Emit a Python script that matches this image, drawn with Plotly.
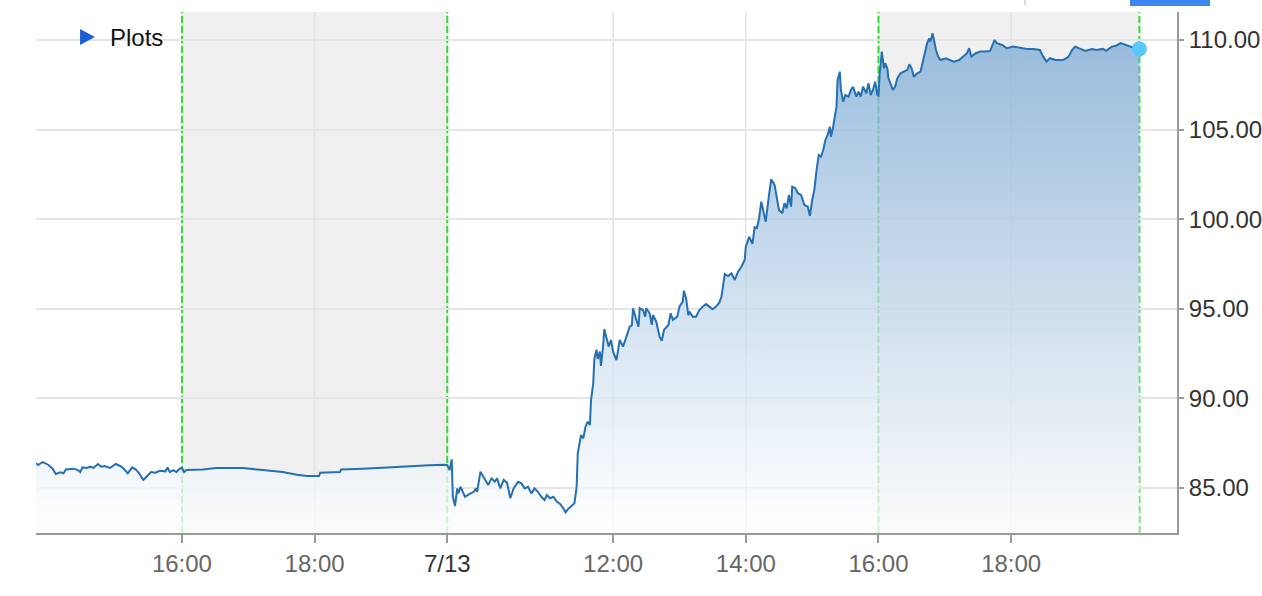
import plotly.graph_objects as go

# ---------------- data ----------------
times = [
    "7/12 13:48", "7/12 13:50", "7/12 13:54", "7/12 13:59", "7/12 14:03", "7/12 14:06", "7/12 14:10",
    "7/12 14:13", "7/12 14:15", "7/12 14:22", "7/12 14:26", "7/12 14:28", "7/12 14:30", "7/12 14:34",
    "7/12 14:37", "7/12 14:40", "7/12 14:44", "7/12 14:47", "7/12 14:50", "7/12 14:55", "7/12 15:00",
    "7/12 15:04", "7/12 15:07", "7/12 15:11", "7/12 15:15", "7/12 15:18", "7/12 15:21", "7/12 15:25",
    "7/12 15:28", "7/12 15:32", "7/12 15:36", "7/12 15:40", "7/12 15:45", "7/12 15:47", "7/12 15:49",
    "7/12 15:52", "7/12 15:55", "7/12 15:58", "7/12 16:00",
    "7/12 16:02", "7/12 16:04", "7/12 16:19", "7/12 16:31", "7/12 16:55", "7/12 17:13", "7/12 17:31",
    "7/12 17:44", "7/12 17:53", "7/12 18:04", "7/12 18:05", "7/12 18:23", "7/12 18:24", "7/12 18:44",
    "7/12 19:14", "7/12 19:44", "7/12 19:57",
    "7/13 09:30", "7/13 09:32", "7/13 09:34", "7/13 09:35", "7/13 09:37", "7/13 09:39", "7/13 09:40",
    "7/13 09:42", "7/13 09:46", "7/13 09:51", "7/13 09:54", "7/13 09:56", "7/13 09:57", "7/13 10:00",
    "7/13 10:04", "7/13 10:07", "7/13 10:10", "7/13 10:13", "7/13 10:15", "7/13 10:18", "7/13 10:21",
    "7/13 10:24", "7/13 10:27", "7/13 10:30", "7/13 10:34", "7/13 10:37", "7/13 10:40", "7/13 10:43",
    "7/13 10:46", "7/13 10:49", "7/13 10:52", "7/13 10:55", "7/13 10:58", "7/13 11:00", "7/13 11:03",
    "7/13 11:06", "7/13 11:09", "7/13 11:12", "7/13 11:15", "7/13 11:17", "7/13 11:19", "7/13 11:22",
    "7/13 11:25", "7/13 11:27", "7/13 11:28", "7/13 11:31", "7/13 11:33", "7/13 11:35", "7/13 11:37",
    "7/13 11:39", "7/13 11:40", "7/13 11:42", "7/13 11:43", "7/13 11:45", "7/13 11:46", "7/13 11:48",
    "7/13 11:49", "7/13 11:51", "7/13 11:52", "7/13 11:54", "7/13 11:56", "7/13 11:58", "7/13 12:00",
    "7/13 12:03", "7/13 12:06", "7/13 12:09", "7/13 12:12", "7/13 12:15", "7/13 12:17", "7/13 12:18",
    "7/13 12:21", "7/13 12:23", "7/13 12:24", "7/13 12:27", "7/13 12:29", "7/13 12:30", "7/13 12:33",
    "7/13 12:35", "7/13 12:36", "7/13 12:39", "7/13 12:42", "7/13 12:44", "7/13 12:46", "7/13 12:50",
    "7/13 12:52", "7/13 12:54", "7/13 12:58", "7/13 13:00", "7/13 13:03", "7/13 13:04", "7/13 13:06",
    "7/13 13:08", "7/13 13:09", "7/13 13:12", "7/13 13:15", "7/13 13:18", "7/13 13:21", "7/13 13:24",
    "7/13 13:27", "7/13 13:30", "7/13 13:33", "7/13 13:36", "7/13 13:38", "7/13 13:41", "7/13 13:44",
    "7/13 13:47", "7/13 13:50", "7/13 13:53", "7/13 13:56", "7/13 13:59", "7/13 14:00", "7/13 14:03",
    "7/13 14:06", "7/13 14:08", "7/13 14:10", "7/13 14:12", "7/13 14:14", "7/13 14:16", "7/13 14:18",
    "7/13 14:21", "7/13 14:23", "7/13 14:26", "7/13 14:28", "7/13 14:30", "7/13 14:33", "7/13 14:35",
    "7/13 14:37", "7/13 14:39", "7/13 14:41", "7/13 14:42", "7/13 14:45", "7/13 14:47", "7/13 14:50",
    "7/13 14:53", "7/13 14:56", "7/13 14:58", "7/13 15:00", "7/13 15:02", "7/13 15:04", "7/13 15:06",
    "7/13 15:08", "7/13 15:10", "7/13 15:12", "7/13 15:14", "7/13 15:16", "7/13 15:17", "7/13 15:19",
    "7/13 15:21", "7/13 15:22", "7/13 15:23", "7/13 15:25", "7/13 15:26", "7/13 15:28", "7/13 15:30",
    "7/13 15:33", "7/13 15:35", "7/13 15:37", "7/13 15:40", "7/13 15:42", "7/13 15:44", "7/13 15:46",
    "7/13 15:49", "7/13 15:51", "7/13 15:53", "7/13 15:55", "7/13 15:57", "7/13 15:59", "7/13 16:00",
    "7/13 16:01", "7/13 16:03", "7/13 16:05", "7/13 16:06", "7/13 16:08", "7/13 16:09", "7/13 16:11",
    "7/13 16:13", "7/13 16:15", "7/13 16:17", "7/13 16:20", "7/13 16:23", "7/13 16:26", "7/13 16:28",
    "7/13 16:30", "7/13 16:32", "7/13 16:35", "7/13 16:38", "7/13 16:41", "7/13 16:44", "7/13 16:46",
    "7/13 16:47", "7/13 16:49", "7/13 16:50", "7/13 16:52", "7/13 16:54", "7/13 16:56", "7/13 17:01",
    "7/13 17:05", "7/13 17:08", "7/13 17:13", "7/13 17:17", "7/13 17:20", "7/13 17:22", "7/13 17:24",
    "7/13 17:28", "7/13 17:32", "7/13 17:37", "7/13 17:41", "7/13 17:45", "7/13 17:47", "7/13 17:52",
    "7/13 17:56", "7/13 18:02", "7/13 18:08", "7/13 18:14", "7/13 18:20", "7/13 18:26", "7/13 18:29",
    "7/13 18:32", "7/13 18:35", "7/13 18:40", "7/13 18:47", "7/13 18:52", "7/13 18:55", "7/13 18:58",
    "7/13 19:01", "7/13 19:07", "7/13 19:13", "7/13 19:17", "7/13 19:23", "7/13 19:26", "7/13 19:31",
    "7/13 19:35", "7/13 19:39", "7/13 19:42", "7/13 19:44", "7/13 19:48", "7/13 19:52", "7/13 19:56",
]

prices = [
    86.38, 86.28, 86.45, 86.30, 86.08, 85.78, 85.88,
    85.82, 86.04, 86.08, 86.00, 85.89, 86.15, 86.12,
    86.19, 86.12, 86.34, 86.19, 86.23, 86.12, 86.34,
    86.23, 86.10, 85.82, 86.15, 86.04, 85.85, 85.45,
    85.63, 85.89, 85.85, 85.96, 85.93, 86.15, 85.89,
    86.00, 85.89, 86.08, 86.12,
    85.89, 86.00, 86.04, 86.12, 86.12, 86.00, 85.89,
    85.74, 85.67, 85.67, 85.85, 85.89, 86.04, 86.08,
    86.19, 86.27, 86.30,
    86.28, 86.00, 86.60, 84.51, 84.00, 84.98, 84.70,
    85.07, 84.51, 84.70, 84.79, 84.98, 84.79, 85.91,
    85.45, 85.17, 85.54, 85.35, 85.54, 84.98, 85.45,
    85.30, 84.43, 84.98, 85.35, 85.26, 84.98, 85.07,
    84.70, 84.98, 84.79, 84.51, 84.33, 84.61, 84.43,
    84.51, 84.24, 84.11, 83.87, 83.64, 83.81, 84.00,
    84.15, 85.07, 86.94, 87.96, 87.77, 88.42, 88.70,
    88.52, 89.91, 90.84, 92.20, 92.72, 92.20, 92.61,
    91.81, 92.98, 93.86, 93.37, 92.89, 93.26, 92.61,
    92.14, 93.26, 92.89, 93.44, 94.00, 94.10, 95.03,
    94.38, 94.00, 95.03, 94.93, 94.56, 95.03, 94.75,
    94.10, 94.65, 94.28, 93.44, 93.22, 93.82, 94.10,
    94.75, 94.38, 94.56, 95.12, 95.40, 96.01, 95.59,
    94.65, 94.84, 94.56, 94.56, 94.93, 95.12, 95.27,
    95.12, 94.97, 95.12, 95.34, 95.68, 96.94, 96.83,
    96.98, 96.61, 97.07, 97.35, 97.72, 98.47, 99.02,
    98.62, 99.55, 99.51, 100.04, 100.98, 100.42, 99.86,
    101.35, 102.23, 101.91, 101.07, 100.51, 100.33, 100.89,
    100.61, 101.35, 100.70, 101.82, 101.72, 101.45, 101.35,
    100.79, 100.70, 100.18, 101.07, 101.63, 102.75, 103.58,
    103.49, 103.86, 104.42, 104.70, 105.16, 104.60, 105.16,
    106.00, 106.28, 107.77, 108.23, 107.21, 106.56, 106.93,
    106.84, 107.21, 107.39, 106.84, 107.12, 106.84, 107.39,
    107.03, 107.58, 106.93, 107.21, 107.67, 106.93, 106.90,
    108.05, 109.35, 108.42, 108.70, 108.42, 107.86, 107.49,
    107.21, 107.39, 107.86, 108.14, 108.23, 108.33, 108.64,
    108.42, 107.95, 108.14, 108.23, 108.98, 109.82, 110.09,
    109.91, 110.37, 110.00, 109.44, 109.07, 108.88, 108.98,
    108.88, 108.79, 108.88, 109.07, 109.26, 109.54, 109.07,
    109.26, 109.35, 109.35, 109.39, 110.00, 109.82, 109.72,
    109.54, 109.63, 109.57, 109.50, 109.50, 109.44, 109.07,
    108.79, 108.98, 108.88, 108.88, 109.07, 109.44, 109.63,
    109.54, 109.39, 109.50, 109.44, 109.50, 109.39, 109.63,
    109.68, 109.82, 109.76, 109.68, 109.63, 109.54, 109.50,
]

tick_stamps = ["7/12 16:00", "7/12 18:00", "7/13 09:30", "7/13 12:00",
               "7/13 14:00", "7/13 16:00", "7/13 18:00"]
tick_labels = ["16:00", "18:00", '<span style="color:#333333">7/13</span>',
               "12:00", "14:00", "16:00", "18:00"]
y_ticks = [85, 90, 95, 100, 105, 110]
session_marks = ["7/12 16:00", "7/13 09:30", "7/13 16:00", "7/13 19:56"]
extended_sessions = [("7/12 16:00", "7/13 09:30"), ("7/13 16:00", "7/13 19:56")]
view_start, view_end = "7/12 13:48", "7/13 20:30"
y_low, y_high = 82.49, 111.56


# trading-time axis: skips the overnight gap (7/12 20:00 -> 7/13 09:30)
def axis_pos(stamp):
    day, hm = stamp.split()
    h, m = map(int, hm.split(":"))
    hr = h + m / 60.0
    if day == "7/12":
        return hr - 16.0
    if hr < 16:
        return 4.0 + (hr - 9.5)
    return 10.5 + (hr - 16.0)


xs = [axis_pos(t) for t in times]

fig = go.Figure()

fig.add_trace(go.Scatter(
    x=xs, y=prices, mode="lines",
    line=dict(color="#2470b3", width=2),
    fill="tozeroy",
    fillgradient=dict(
        type="vertical",
        colorscale=[[0, "rgba(255,255,255,0.75)"], [1, "rgba(126,171,213,0.78)"]],
        start=y_low, stop=max(prices),
    ),
    hoverinfo="skip", showlegend=False,
))

fig.add_trace(go.Scatter(
    x=[xs[-1]], y=[prices[-1]], mode="markers",
    marker=dict(color="#5ac8fa", size=15),
    hoverinfo="skip", showlegend=False,
))

shapes = []
# grey extended-hours bands
for a, b in extended_sessions:
    shapes.append(dict(type="rect", xref="x", yref="paper", x0=axis_pos(a), x1=axis_pos(b),
                       y0=0, y1=1, fillcolor="#f0f0f0", line=dict(width=0), layer="below"))
# vertical grid lines (drawn as shapes so they sit on top of the bands)
for t in tick_stamps:
    shapes.append(dict(type="line", xref="x", yref="paper", x0=axis_pos(t), x1=axis_pos(t),
                       y0=0, y1=1, line=dict(color="#e2e2e2", width=1.5), layer="below"))
# green dashed session boundaries
for s in session_marks:
    shapes.append(dict(type="line", xref="x", yref="paper", x0=axis_pos(s), x1=axis_pos(s),
                       y0=0, y1=1, line=dict(color="#35d935", width=2, dash="7px,3px"),
                       layer="below"))
# legend triangle
shapes.append(dict(type="path", xref="paper", yref="paper",
                   path="M 0.0386 0.9674 L 0.0386 0.9367 L 0.0517 0.9520 Z",
                   fillcolor="#1b5fd6", line=dict(width=0)))
# cut-off UI elements at the top edge
shapes.append(dict(type="rect", xref="paper", yref="paper", x0=0.9588, x1=1.0289,
                   y0=1.0115, y1=1.0230, fillcolor="#3b86f0", line=dict(width=0)))
shapes.append(dict(type="line", xref="paper", yref="paper", x0=0.8668, x1=0.8668,
                   y0=1.0134, y1=1.0230, line=dict(color="#cccccc", width=1.5)))

fig.update_layout(
    width=1262, height=596,
    margin=dict(l=36, r=85, t=12, b=63, autoexpand=False),
    paper_bgcolor="white", plot_bgcolor="white",
    font=dict(family="Liberation Sans, Arial, sans-serif", size=24, color="#333333"),
    shapes=shapes,
    annotations=[dict(text="Plots", xref="paper", yref="paper", x=0.0631, y=0.952,
                      xanchor="left", yanchor="middle", showarrow=False,
                      font=dict(size=24, color="#111111"))],
    showlegend=False,
)

fig.update_xaxes(
    range=[axis_pos(view_start), axis_pos(view_end)], automargin=False,
    tickvals=[axis_pos(t) for t in tick_stamps], ticktext=tick_labels,
    showgrid=False,
    showline=True, linecolor="#9a9a9a", linewidth=2,
    ticks="outside", ticklen=8, tickwidth=1.5, tickcolor="#9a9a9a",
    tickfont=dict(size=24, color="#666666"), zeroline=False,
)
fig.update_yaxes(
    range=[y_low, y_high], side="right", automargin=False,
    tickvals=y_ticks, ticktext=[f"{v:.2f}" for v in y_ticks],
    showgrid=True, gridcolor="#e6e6e6", gridwidth=1.5,
    showline=True, linecolor="#9a9a9a", linewidth=2,
    ticks="outside", ticklen=5, tickwidth=1.5, tickcolor="#9a9a9a",
    tickfont=dict(size=24, color="#333333"), zeroline=False,
)

fig.write_html("out.html")
